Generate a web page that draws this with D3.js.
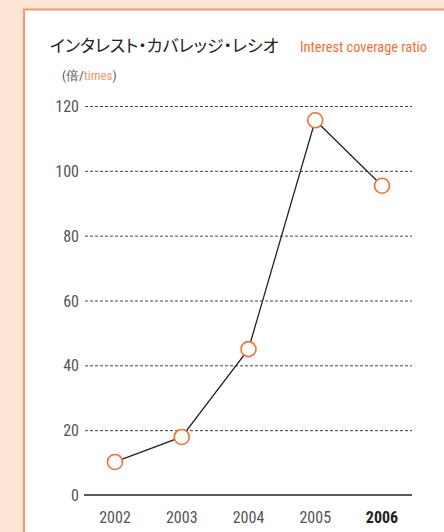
<!DOCTYPE html>
<html>
<head>
<meta charset="utf-8">
<script src="https://cdn.jsdelivr.net/npm/d3@7"></script>
<style>
  body { margin: 0; background: #fde5d6; }
  svg { display: block; }
</style>
</head>
<body>
<script>
var years = ["2002", "2003", "2004", "2005", "2006"];
var ratio = [10.2, 17.9, 45.0, 115.6, 95.4];
var yTicks = [0, 20, 40, 60, 80, 100, 120];

var w = 444;
var h = 532;
var narrow = "'Liberation Sans Narrow', 'Roboto Condensed', 'DejaVu Sans Condensed', sans-serif";

var svg = d3.select("body")
    .append("svg")
    .attr("width", w)
    .attr("height", h);

// white panel with orange frame, runs off the right and bottom
svg.append("rect")
    .attr("x", 24)
    .attr("y", 9.5)
    .attr("width", 440)
    .attr("height", 540)
    .attr("fill", "white")
    .attr("stroke", "#f5956a")
    .attr("stroke-width", 2);

var x = d3.scalePoint()
    .domain(years)
    .range([115, 382]);

var y = d3.scaleLinear()
    .domain([0, 120])
    .range([495, 106]);

// title
svg.append("text")
    .attr("x", 50)
    .attr("y", 52)
    .attr("font-size", "17px")
    .attr("font-family", "'Noto Sans CJK JP', sans-serif")
    .style("font-feature-settings", "'palt'")
    .attr("fill", "#222")
    .text("インタレスト・カバレッジ・レシオ");
svg.append("text")
    .attr("x", 300)
    .attr("y", 52)
    .attr("font-family", narrow)
    .attr("font-size", "15.5px")
    .attr("textLength", 127)
    .attr("lengthAdjust", "spacingAndGlyphs")
    .attr("fill", "#f26f33")
    .text("Interest coverage ratio");

var unit = svg.append("text")
    .attr("x", 62)
    .attr("y", 80)
    .attr("font-family", narrow)
    .attr("font-size", "13px")
    .attr("fill", "#555");
unit.append("tspan").text("(倍/");
unit.append("tspan").attr("fill", "#f5956a").text("times");
unit.append("tspan").text(")");

// gridlines
svg.selectAll("line.grid")
    .data(yTicks.filter(function(d){ return d > 0; }))
    .enter()
    .append("line")
    .attr("class", "grid")
    .attr("x1", 85)
    .attr("x2", 412)
    .attr("y1", function(d){ return y(d) + 0.5; })
    .attr("y2", function(d){ return y(d) + 0.5; })
    .attr("stroke", "#444")
    .attr("stroke-width", 1)
    .attr("stroke-dasharray", "3,2");

// baseline
svg.append("line")
    .attr("x1", 84)
    .attr("x2", 412)
    .attr("y1", y(0))
    .attr("y2", y(0))
    .attr("stroke", "#222")
    .attr("stroke-width", 1.5);

// y labels
svg.selectAll("text.ylab")
    .data(yTicks)
    .enter()
    .append("text")
    .attr("class", "ylab")
    .attr("x", 79)
    .attr("y", function(d){ return y(d) + 6; })
    .attr("text-anchor", "end")
    .attr("font-family", narrow)
    .attr("font-size", "16px")
    .attr("fill", "#555")
    .text(function(d){ return d; });

// x labels
svg.selectAll("text.xlab")
    .data(years)
    .enter()
    .append("text")
    .attr("class", "xlab")
    .attr("x", function(d){ return x(d); })
    .attr("y", 523)
    .attr("text-anchor", "middle")
    .attr("font-family", narrow)
    .attr("font-size", "16px")
    .attr("font-weight", function(d, i){ return i == years.length - 1 ? "bold" : "normal"; })
    .attr("fill", function(d, i){ return i == years.length - 1 ? "#222" : "#555"; })
    .text(function(d){ return d; });

var line = d3.line()
    .x(function(d, i){ return x(years[i]); })
    .y(function(d){ return y(d); });

svg.append("path")
    .datum(ratio)
    .attr("d", line)
    .attr("fill", "none")
    .attr("stroke", "#222")
    .attr("stroke-width", 1.3);

svg.selectAll("circle")
    .data(ratio)
    .enter()
    .append("circle")
    .attr("cx", function(d, i){ return x(years[i]); })
    .attr("cy", function(d){ return y(d); })
    .attr("r", 7.5)
    .attr("fill", "white")
    .attr("stroke", "#f26f33")
    .attr("stroke-width", 1.6);
</script>
</body>
</html>
